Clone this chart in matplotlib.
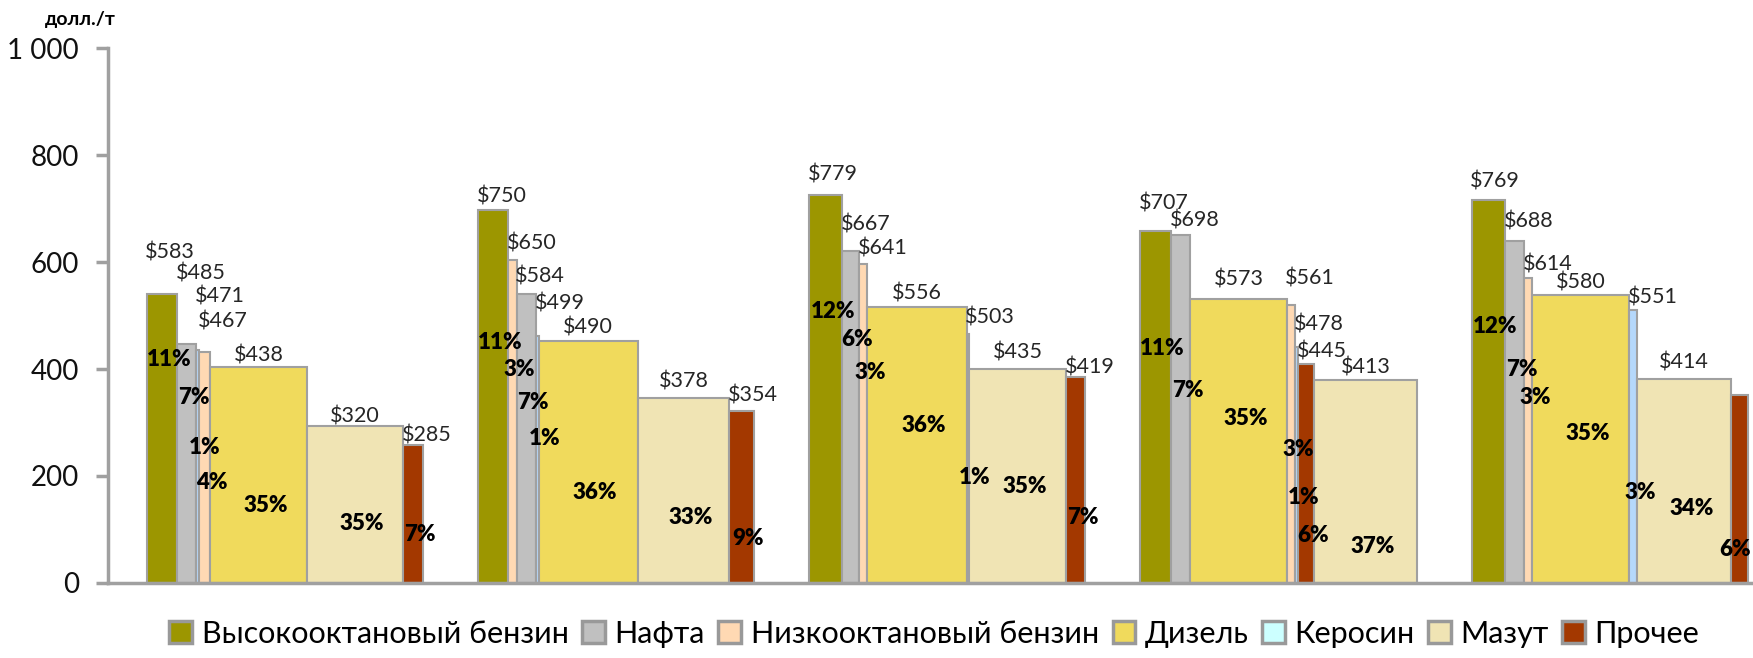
import matplotlib
matplotlib.use("Agg")
from matplotlib import pyplot as plt
from matplotlib.patches import Patch

plt.rcParams['font.family'] = ['Lato', 'DejaVu Sans']

# products and colours
products = ["Высокооктановый бензин", "Нафта", "Низкооктановый бензин", "Дизель", "Керосин", "Мазут", "Прочее"]
colors = {"Высокооктановый бензин": "#9c9600", "Нафта": "#c0c0c0", "Низкооктановый бензин": "#ffd9b3",
          "Дизель": "#f0da5c", "Керосин": "#b5d8fb", "Мазут": "#f0e4b4", "Прочее": "#a33800"}
legend_colors = dict(colors, **{"Керосин": "#ccffff"})

G, N, L, D, K, M, P = products

# each group: products sorted by price
order = [
    [G, N, K, L, D, M, P],
    [G, L, N, K, D, M, P],
    [G, N, L, D, K, M, P],
    [G, N, D, L, K, P, M],
    [G, N, L, D, K, M, P],
]
prices = [
    [583, 485, 471, 467, 438, 320, 285],
    [750, 650, 584, 499, 490, 378, 354],
    [779, 667, 641, 556, 503, 435, 419],
    [707, 698, 573, 561, 478, 445, 413],
    [769, 688, 614, 580, 551, 414, None],
]
shares = [
    [11, 7, 1, 4, 35, 35, 7],
    [11, 3, 7, 1, 36, 33, 9],
    [12, 6, 3, 36, 1, 35, 7],
    [11, 7, 35, 3, 1, 6, 37],
    [12, 7, 3, 35, 3, 34, 6],
]
# bar heights as drawn in the picture
heights = [
    [540, 447, 435, 432, 403, 293, 258],
    [697, 604, 540, 461, 453, 346, 322],
    [726, 620, 596, 515, 465, 400, 385],
    [658, 650, 531, 520, 441, 410, 380],
    [715, 640, 570, 538, 510, 381, 351],
]
# label heights
price_label_y = [
    [617, 578, 536, 488, 426, 312, 275],
    [722, 634, 572, 523, 477, 376, 351],
    [763, 671, 626, 542, 497, 430, 402],
    [710, 677, 568, 570, 484, 432, 402],
    [751, 675, 596, 561, 533, 413, None],
]
pct_label_y = [
    [417, 346, 254, 187, 144, 112, 90],
    [450, 400, 338, 271, 170, 123, 84],
    [507, 456, 393, 295, 198, 181, 123],
    [439, 359, 308, 250, 159, 88, 69],
    [480, 400, 346, 279, 170, 140, 62],
]

fig = plt.figure(figsize=(17.53, 6.58), dpi=100)
ax = fig.add_axes([0.0616, 0.114, 0.937, 0.813])

group_gap = 20
x0 = 14
xmax = 595
for g in range(len(order)):
    x = x0 + g * (100 + group_gap)
    for name, price, share, h, py, qy in zip(order[g], prices[g], shares[g], heights[g],
                                              price_label_y[g], pct_label_y[g]):
        ax.bar(x, h, width=share, align='edge', color=colors[name],
               edgecolor='#a0a0a0', linewidth=1.5, zorder=2)
        if price is not None:
            if share < 16:
                ax.text(x - 0.5, py, f"${price}", ha='left', va='center',
                        fontsize=15.5, color='#262626', zorder=4)
            else:
                ax.text(x + share / 2, py, f"${price}", ha='center', va='center',
                        fontsize=15.5, color='#262626', zorder=4)
        ax.text(min(x + share / 2 + 2.5, xmax - 5.5), qy, f"{share}%", ha='center', va='center',
                fontsize=16, fontweight='heavy', color='black', zorder=5)
        x += share

ax.set_xlim(0, xmax)
ax.set_ylim(0, 1000)
ax.set_yticks([0, 200, 400, 600, 800, 1000])
ax.set_yticklabels(["0", "200", "400", "600", "800", "1 000"])
ax.set_xticks([])
for s in ['top', 'right']:
    ax.spines[s].set_visible(False)
for s in ['left', 'bottom']:
    ax.spines[s].set_color('#a0a0a0')
    ax.spines[s].set_linewidth(2.5)
ax.tick_params(axis='y', length=9, width=2.5, color='#a0a0a0', labelsize=20,
               pad=12, labelcolor='#111111')

fig.text(45 / 1753, 1 - 20 / 658, "долл./т", fontsize=14, fontweight='bold', va='center', ha='left')

handles = [Patch(facecolor=legend_colors[p], edgecolor='#999999', linewidth=2.5, label=p) for p in products]
fig.legend(handles=handles, loc='lower center', bbox_to_anchor=(0.533, -0.012), ncol=7, frameon=False,
           fontsize=22, handlelength=0.75, handleheight=0.75, handletextpad=0.3, columnspacing=0.45,
           borderpad=0.1)

fig.savefig("out.png", dpi=100)
